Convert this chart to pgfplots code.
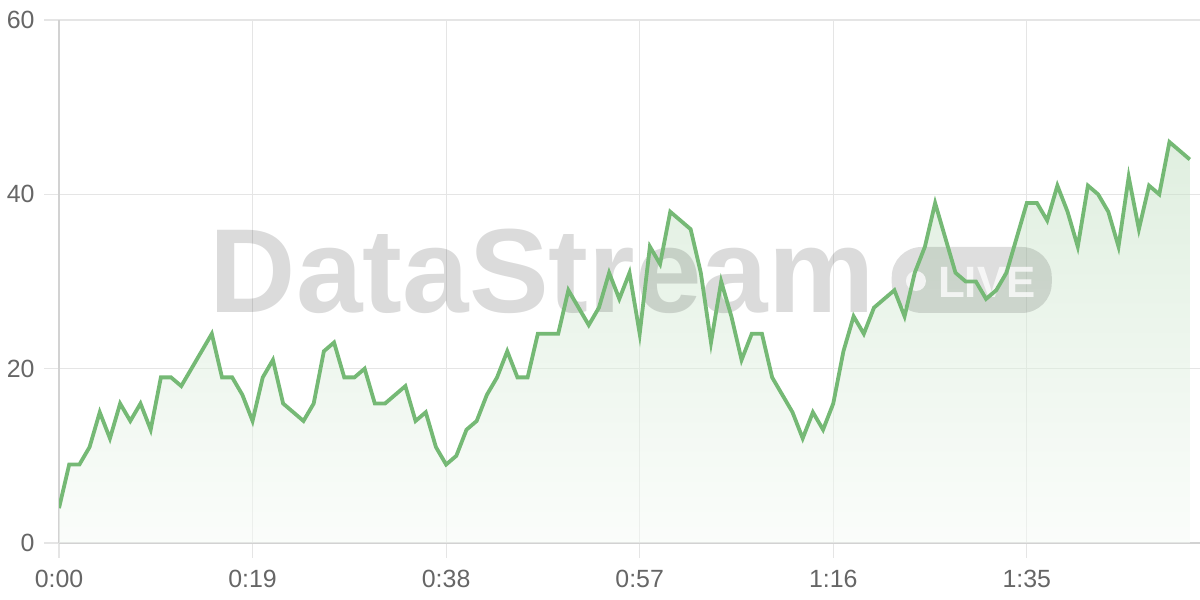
\documentclass[border=0pt]{standalone}
\usepackage{fontspec}
\setmainfont{Liberation Sans}
\usepackage{pgfplots}
\pgfplotsset{compat=1.18}
\usepackage{pgfplotstable}

\definecolor{linegreen}{RGB}{117,185,117}
\definecolor{gridgray}{RGB}{229,229,229}
\definecolor{axisgray}{RGB}{210,210,210}
\definecolor{labelgray}{RGB}{102,102,102}

% seconds since start, value
\pgfplotstableread{
t v
0 4
1 9
2 9
3 11
4 15
5 12
6 16
7 14
8 16
9 13
10 19
11 19
12 18
13 20
14 22
15 24
16 19
17 19
18 17
19 14
20 19
21 21
22 16
23 15
24 14
25 16
26 22
27 23
28 19
29 19
30 20
31 16
32 16
33 17
34 18
35 14
36 15
37 11
38 9
39 10
40 13
41 14
42 17
43 19
44 22
45 19
46 19
47 24
48 24
49 24
50 29
51 27
52 25
53 27
54 31
55 28
56 31
57 24
58 34
59 32
60 38
61 37
62 36
63 31
64 23
65 30
66 26
67 21
68 24
69 24
70 19
71 17
72 15
73 12
74 15
75 13
76 16
77 22
78 26
79 24
80 27
81 28
82 29
83 26
84 31
85 34
86 39
87 35
88 31
89 30
90 30
91 28
92 29
93 31
94 35
95 39
96 39
97 37
98 41
99 38
100 34
101 41
102 40
103 38
104 34
105 42
106 36
107 41
108 40
109 46
110 45
111 44
}\stream

\begin{document}
\begin{tikzpicture}
\path[use as bounding box] (0,0) rectangle (1200bp,600bp);
\begin{axis}[
    at={(59bp,57bp)},
    anchor=south west,
    scale only axis,
    width=1141bp,
    height=523bp,
    xmin=0, xmax=112,
    ymin=0, ymax=60,
    xtick={0,19,38,57,76,95},
    xticklabels={0:00,0:19,0:38,0:57,1:16,1:35},
    ytick={0,20,40,60},
    grid=major,
    major grid style={draw=gridgray, line width=1.2bp},
    axis x line*=bottom,
    axis y line*=left,
    axis line style={draw=axisgray, line width=1.5bp, -},
    tick align=outside,
    major tick length=15bp,
    tick style={draw=gridgray, line width=1.2bp},
    ticklabel style={font=\fontsize{25}{25}\selectfont, text=labelgray},
    xticklabel style={yshift=-9bp},
    yticklabel style={xshift=-6bp},
    /pgf/number format/assume math mode=true,
]

% area under the line
\addplot[draw=none, top color=linegreen!45!white, bottom color=linegreen!6!white,
    fill opacity=0.5] table[x=t, y=v] {\stream} \closedcycle;

% watermark
\node[anchor=base west, inner sep=0, text=black, text opacity=0.14,
    font=\fontsize{120}{120}\selectfont\bfseries] at (axis cs:14.8,26.4) {DataStream};
\fill[black, fill opacity=0.13, rounded corners=30bp]
    (axis cs:81.74,26.39) rectangle (axis cs:97.45,33.96);
\fill[white, fill opacity=0.75] (axis cs:84.12,30.06) circle[radius=10bp];
\node[anchor=base west, inner sep=0, text=white, text opacity=0.75,
    font=\fontsize{44}{44}\selectfont\bfseries] at (axis cs:86.28,28.22) {LIVE};

% the series
\addplot[linegreen, line width=3.8bp, line join=miter] table[x=t, y=v] {\stream};

\end{axis}
\end{tikzpicture}
\end{document}
